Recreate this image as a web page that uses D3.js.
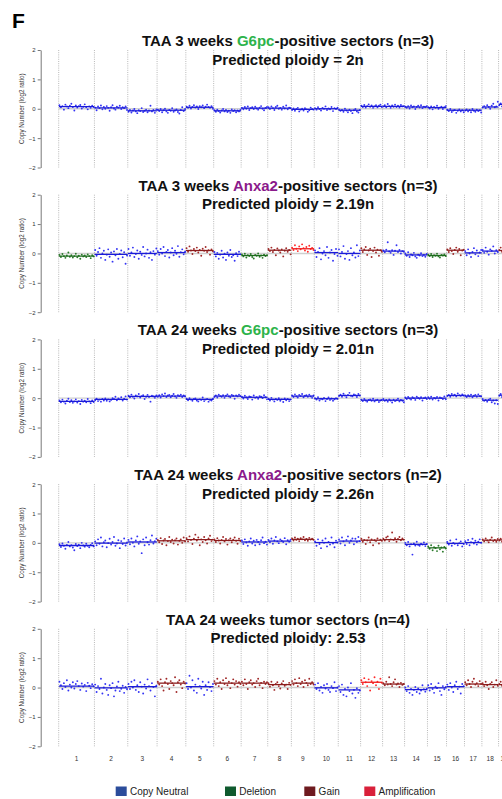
<!DOCTYPE html>
<html>
<head>
<meta charset="utf-8">
<script src="https://cdn.jsdelivr.net/npm/d3@7"></script>
<style>
    body { margin: 0; background: #fff; }
    svg { display: block; font-family: "Liberation Sans", Arial, Helvetica, sans-serif; }
    .axis path, .axis line { stroke: #555; stroke-width: 0.8; }
    .axis text { font-size: 6px; fill: #333; }
    .ylabel { font-size: 6.3px; fill: #333; }
    .title { font-size: 15px; font-weight: bold; fill: #111; }
    .chrom-label { font-size: 6.5px; fill: #333; }
    .legend text { font-size: 10px; fill: #222; }
</style>
</head>
<body>
<div id="chart"></div>
<script>
// Mouse chromosomes and their lengths (Mb)
var chromosomes = ['1', '2', '3', '4', '5', '6', '7', '8', '9', '10', '11', '12', '13', '14', '15', '16', '17', '18', '19', 'X'];
var chromLengths = [195, 182, 160, 157, 152, 150, 145, 129, 125, 131, 122, 120, 120, 125, 104, 98, 95, 91, 61, 171];

var titleLeads = ['TAA 3 weeks ', 'TAA 3 weeks ', 'TAA 24 weeks ', 'TAA 24 weeks ', 'TAA 24 weeks tumor sectors (n=4)'];
var titleGenes = ['G6pc', 'Anxa2', 'G6pc', 'Anxa2', ''];
var titleTails = ['-positive sectors (n=3)', '-positive sectors (n=3)', '-positive sectors (n=3)', '-positive sectors (n=2)', ''];
var ploidyLabels = ['Predicted ploidy = 2n', 'Predicted ploidy = 2.19n', 'Predicted ploidy = 2.01n', 'Predicted ploidy = 2.26n', 'Predicted ploidy: 2.53'];

var yTicks = [-2, -1, 0, 1, 2];
var legendLabels = ['Copy Neutral', 'Deletion', 'Gain', 'Amplification'];
var legendStates = ['N', 'D', 'G', 'A'];

// Segment call per chromosome (N neutral, D deletion, G gain, A amplification)
var segmentStates = [
    'NNNNNNNNNNNNNNNNNNN',
    'DNNNGNDGANNGNNDGNNG',
    'NNNNNNNNNNNNNNNNNNN',
    'NNNGGGNNGNNGGNDNNGG',
    'NNNGNGGGGNNAGNNNGGG'
];

// Segment mean log2 ratio per chromosome
var segmentLevels = [
    [0.07, 0.03, -0.07, -0.05, 0.05, -0.07, 0.02, 0.02, -0.02, 0.00, -0.05, 0.08, 0.08, 0.06, 0.04, -0.05, -0.05, 0.06, 0.15],
    [-0.09, -0.03, 0.00, 0.03, 0.10, -0.03, -0.07, 0.11, 0.16, 0.03, 0.00, 0.11, 0.08, -0.05, -0.07, 0.11, 0.02, 0.08, 0.10],
    [-0.11, -0.04, 0.06, 0.07, -0.04, 0.07, 0.03, -0.04, 0.07, -0.02, 0.09, -0.07, -0.07, 0.00, 0.00, 0.09, 0.07, -0.07, 0.10],
    [-0.09, -0.01, 0.03, 0.07, 0.11, 0.08, 0.03, 0.06, 0.12, 0.01, 0.06, 0.09, 0.11, -0.05, -0.17, -0.02, 0.01, 0.09, 0.10],
    [0.05, -0.01, 0.03, 0.15, 0.03, 0.15, 0.15, 0.10, 0.15, -0.01, -0.08, 0.18, 0.12, -0.07, -0.01, 0.03, 0.12, 0.10, 0.10]
];

// Bin log2 ratios (x100), one string per chromosome
var binsG6pc3w = [
    '12 5 9 -3 14 8 2 10 17 6 -6 11 4 9 13 1 7 15 5 -2 8 3 10 6',
    '4 -5 8 2 11 -2 6 0 9 3 -7 5 12 1 -3 7 4 10 -1 5 2 8 -4',
    '-10 -4 -13 -6 -1 -9 -15 -5 -8 2 -11 -7 -3 -12 -6 10 -9 -4 -14 -2',
    '-3 -8 -1 -12 -5 0 -9 -14 -4 -7 2 -10 -6 -2 -11 -16 -4 5 -8 -1',
    '7 3 10 1 6 12 4 8 -1 9 5 11 2 7 14 6 3 9 0',
    '-5 -10 -3 -8 -13 -6 -1 -9 -4 -11 -7 -14 -2 -8 -5 -12 -6 -9 -3',
    '3 -2 6 0 8 -4 2 5 -1 7 1 -3 4 9 0 -5 3 6',
    '5 -1 8 2 -4 6 10 0 3 -3 7 1 11 -2 4 2',
    '-4 1 -7 -1 3 -9 -3 0 -6 2 -2 -10 -5 4 -1 -3',
    '2 -3 5 -1 -6 3 0 8 -4 1 -2 6 -8 2 -1 4',
    '-2 -7 -4 -10 0 -6 -12 -3 -8 -15 -5 -1 -9 -13 -4',
    '10 6 13 4 9 15 7 11 3 8 12 5 10 14 6',
    '8 12 5 16 9 3 11 7 14 6 10 4 13 8 9',
    '7 3 9 1 11 5 8 -1 6 10 4 12 2 7 5 9',
    '5 1 8 -2 6 3 10 0 4 7 -1 5 9',
    '-3 -8 -1 -11 -6 -4 -14 -7 -2 -9 -5 -12',
    '-6 -2 -9 -4 -12 -1 -7 -10 -3 -8 -5 -13',
    '4 9 2 12 6 0 10 17 5 8 24',
    '12 18 8 22 15 10 19 14'
];

var binsAnxa23w = [
    '-5 -12 -2 -9 -15 -7 3 -11 -6 -14 -9 -1 -13 -8 -18 -4 -10 -7 -12 -3 -9 -16 -6 -10',
    '12 -8 5 18 -15 0 9 -22 -4 14 -11 3 -28 7 -6 15 -18 -2 10 -13 4 -35 -7',
    '15 -8 3 20 -12 -2 10 -18 6 -5 22 -10 0 13 -15 4 -22 8 -4 17',
    '8 -4 15 0 22 -9 5 12 -14 3 18 -6 9 -1 25 -11 4 14 -3 7',
    '18 6 24 10 -2 15 8 20 3 12 -8 16 9 22 5 11 -4 14 7',
    '5 -10 2 -18 -4 9 -14 -1 -22 3 -8 12 -12 -6 -25 1 -9 6 -3',
    '-3 -10 -1 -14 -6 -9 -2 -12 -17 -5 -8 0 -11 -7 -15 -4 -9 -6',
    '15 8 20 5 12 -6 17 10 3 14 -10 9 18 6 12 -3',
    '20 12 28 16 8 24 14 31 18 10 22 6 26 15 19 12',
    '10 -12 5 18 -20 0 8 -6 22 -15 3 12 -25 -2 15 -8',
    '14 -10 5 25 -18 -2 8 -22 18 -6 3 -14 28 -9 10',
    '18 5 14 22 -5 10 16 -12 8 20 3 13 -8 11 6',
    '10 4 13 38 7 2 11 -5 9 28 5 12 0 8 6',
    '0 -8 4 -12 -3 -6 2 -10 -15 -4 -7 1 -9 -5 -11 -2',
    '-4 -9 -2 -12 -6 -8 -1 -10 -14 -5 -7 -3 -9',
    '14 5 18 8 -2 12 20 6 15 -6 10 13',
    '8 -6 14 0 -12 5 18 -3 10 -9 3 12',
    '12 2 20 6 -4 14 9 24 0 11 5',
    '12 20 6 15 9 24 4 13'
];

var binsG6pc24w = [
    '-8 -14 -5 -12 -18 -9 -2 -13 -7 -16 -11 -4 -15 -10 -20 -6 -12 -9 -14 -3 -11 -17 -8 -13',
    '-7 -2 -10 -5 -12 -3 -8 -1 -9 -4 -11 -6 0 -3 5 -7 -1 -4 3 -8 -2 6 -5',
    '8 3 12 5 -1 9 6 14 2 7 10 -3 5 11 4 -12 8 6 1 9',
    '5 10 2 13 7 16 4 9 11 3 8 14 6 1 10 7 12 4 9 6',
    '-2 -7 0 -5 -9 -3 -1 -8 -11 -4 -6 2 -10 -5 -3 -12 -6 -8 -2',
    '4 9 2 12 7 5 10 1 8 13 6 3 11 8 -2 9 6 12 7',
    '5 -1 8 2 -3 6 4 -5 9 1 3 -2 7 5 0 10 3 -4',
    '-2 -8 1 -5 -11 -3 -6 0 -9 -4 -13 -1 -7 -3 -10 -5',
    '9 4 13 6 2 11 7 14 3 8 10 5 12 6 1 9',
    '0 -5 3 -8 -2 -4 1 -10 -3 2 -6 -1 -9 -4 0 -2',
    '7 12 5 15 9 3 11 18 8 6 13 10 4 14 9',
    '-5 -10 -3 -8 -12 -6 -4 -9 -2 -11 -7 -5 -13 -8 -6',
    '-3 -9 -6 -12 -4 -8 -15 -5 -10 -7 -2 -11 -6 -9 -14',
    '2 -3 4 -1 -5 3 0 -6 5 1 -2 3 -8 0 2 -3',
    '3 -2 5 -5 1 -1 4 -8 2 0 -3 6 -4',
    '7 11 5 14 9 12 6 16 10 8 13 9',
    '9 4 10 6 12 3 8 11 5 13 7 6',
    '-3 -9 -6 -12 -5 -2 -14 -8 -18 -7 -20',
    '8 14 4 12 18 6 10 15'
];

var binsAnxa224w = [
    '-5 -14 -2 -10 -20 -7 3 -12 -8 -16 -25 -4 -11 -6 -18 0 -9 -13 -3 -10 -15 -7 -1 -12',
    '5 -8 12 -3 18 -12 2 8 -15 -1 14 -6 3 20 -10 -2 9 -18 6 -4 15 -9 1',
    '10 -5 15 0 -12 8 22 -3 5 -35 12 -8 18 2 -6 9 25 -2 6 14',
    '10 2 16 -4 8 13 -8 6 20 3 11 -2 9 15 -6 7 12 0 18 5',
    '16 5 22 10 -4 14 28 8 18 -8 12 3 20 9 -2 15 24 6 11',
    '12 3 16 8 -2 10 20 5 13 -6 9 15 2 11 18 7 -3 14 6',
    '8 -4 12 1 -10 5 15 -2 7 -8 10 3 -5 9 18 -1 4 -6',
    '10 2 15 -3 8 20 5 -1 12 7 3 16 -5 9 4 11',
    '15 8 18 10 14 6 16 12 20 9 13 7 17 11 14 10',
    '5 -10 12 -4 -18 8 0 15 -12 3 -6 18 -2 -15 7 1',
    '12 -2 18 5 -8 10 22 0 8 15 -5 14 3 20 6',
    '14 4 10 -4 8 18 2 12 -8 9 6 15 -2 11 7',
    '14 8 18 22 6 12 35 10 16 4 13 20 9 15 11',
    '0 -8 3 -12 -5 -40 -2 -9 4 -7 -10 -3 -6 1 -11 -4',
    '-12 -20 -8 -25 -15 -18 -28 -10 -22 -16 -30 -14 -19',
    '3 -6 8 -10 0 -3 12 -8 -1 5 -12 -4',
    '6 -4 10 -8 2 14 -2 7 -6 4 12 0',
    '12 5 15 8 2 11 18 6 10 4 13',
    '8 14 4 12 18 6 10 15'
];

var binsTumor24w = [
    '20 8 -5 15 2 25 -10 10 0 18 -3 12 22 5 -8 14 3 9 -12 16 6 -2 11 4',
    '10 -15 5 -5 30 -20 0 12 -8 -25 8 -2 15 -30 -10 4 20 -12 -4 6 -18 2 -6',
    '12 -5 20 0 25 -8 8 -15 18 3 -20 10 -3 28 5 -10 15 2 -30 6',
    '20 10 28 5 -10 18 30 12 -5 22 15 8 35 -15 18 25 10 -2 20 14',
    '15 -5 40 0 25 -10 10 -18 30 5 -3 20 -25 8 -8 18 2 -12 12',
    '22 10 30 5 18 -5 25 12 32 8 20 -2 15 28 10 22 3 18 12',
    '20 8 28 12 -5 18 25 10 15 2 22 30 8 16 -2 20 12 18',
    '15 3 20 8 -8 12 18 5 -3 14 22 6 10 -5 16 9',
    '22 10 28 15 5 32 12 20 2 25 16 8 30 12 18 10',
    '10 -5 15 -10 2 -18 8 -3 12 -8 -15 5 -2 18 -12 0',
    '5 -15 10 -25 -5 -30 0 -12 15 -20 -8 -35 -2 -18 -10',
    '25 12 32 18 5 28 -10 22 15 35 8 20 -5 30 16',
    '15 8 20 10 35 12 5 18 28 10 14 2 16 9 12',
    '0 -12 5 -18 -5 -25 -8 2 -15 -3 -20 -10 8 -6 -14 -4',
    '8 -10 12 -5 -18 3 -2 15 -12 -25 5 -6 2',
    '10 -8 15 0 -15 8 20 -5 3 -20 12 5',
    '18 8 25 12 2 20 30 10 15 5 22 12',
    '15 5 20 8 -5 12 18 2 10 25 6',
    '12 20 6 15 9 24 4 13'
];

var panelBins = [binsG6pc3w, binsAnxa23w, binsG6pc24w, binsAnxa224w, binsTumor24w];

(function (d3) {
    'use strict';

    var width = 502;
    var height = 799;

    var dotColor = {N: '#3333f4', D: '#2a7a2a', G: '#a02828', A: '#ff2a2a'};
    var segColor = {N: '#1a1ad8', D: '#1c6a1c', G: '#8a1c1c', A: '#f01c1c'};
    var legendColor = {N: '#2b4c9b', D: '#0f5a2e', G: '#6e1a1f', A: '#d9203a'};
    var geneColor = {G6pc: '#2db34a', Anxa2: '#8b1a8b'};

    var svg = d3.select('#chart').append('svg')
        .attr('width', width)
        .attr('height', height)
    ;

    // Genome coordinates: chromosome starts
    var total = d3.sum(chromLengths);
    var starts = [0].concat(Array.from(d3.cumsum(chromLengths)));

    var x = d3.scaleLinear()
        .domain([0, total])
        .range([58.7, 58.7 + total * 0.1832])
    ;

    svg.append('text')
        .attr('x', 12)
        .attr('y', 28)
        .attr('font-size', 21)
        .attr('font-weight', 'bold')
        .text('F')
    ;

    panelBins.forEach(function (bins, p) {
        drawPanel(p, bins);
    });

    drawChromLabels(50 + 144.7 * 4);
    drawLegend();

    function drawPanel(p, bins) {
        var top = 50 + 144.7 * p;
        var y = d3.scaleLinear().domain([-2, 2]).range([top + 117.5, top]);
        var g = svg.append('g').attr('class', 'panel');

        // zero line
        g.append('line')
            .attr('x1', x(0))
            .attr('x2', width)
            .attr('y1', y(0))
            .attr('y2', y(0))
            .attr('stroke', '#cfcfcf')
            .attr('stroke-width', 1.4)
        ;

        // chromosome boundaries
        g.selectAll('.boundary')
            .data(starts)
            .enter()
            .append('line')
            .attr('class', 'boundary')
            .attr('x1', function (d) { return x(d); })
            .attr('x2', function (d) { return x(d); })
            .attr('y1', y(2))
            .attr('y2', y(-2))
            .attr('stroke', '#8a8a8a')
            .attr('stroke-width', 0.6)
            .attr('stroke-dasharray', '1,1.2')
        ;

        // y axis
        g.append('g')
            .attr('class', 'axis')
            .attr('transform', 'translate(40.7,0)')
            .call(d3.axisLeft(y).tickValues(yTicks).tickSize(3).tickSizeOuter(0).tickPadding(2).tickFormat(d3.format('d')))
        ;

        g.append('text')
            .attr('class', 'ylabel')
            .attr('transform', 'translate(23.5,' + y(0) + ') rotate(-90)')
            .attr('text-anchor', 'middle')
            .text('Copy Number (log2 ratio)')
        ;

        // bins
        bins.forEach(function (str, c) {
            var vals = str.split(' ').map(Number);
            var state = segmentStates[p][c];
            var len = chromLengths[c];
            g.append('g')
                .selectAll('circle')
                .data(vals)
                .enter()
                .append('circle')
                .attr('cx', function (v, i) { return x(starts[c] + (i + 0.5) / vals.length * len); })
                .attr('cy', function (v) { return y(v / 100); })
                .attr('r', 0.95)
                .attr('fill', dotColor[state])
            ;

            g.append('line')
                .attr('x1', x(starts[c] + 1))
                .attr('x2', x(starts[c] + len - 1))
                .attr('y1', y(segmentLevels[p][c]))
                .attr('y2', y(segmentLevels[p][c]))
                .attr('stroke', segColor[state])
                .attr('stroke-width', 1.3)
            ;
        });

        // title
        var t1 = g.append('text')
            .attr('class', 'title')
            .attr('x', 288)
            .attr('y', top - 4)
            .attr('text-anchor', 'middle')
        ;
        t1.append('tspan').text(titleLeads[p]);
        if (titleGenes[p]) {
            t1.append('tspan').attr('fill', geneColor[titleGenes[p]]).text(titleGenes[p]);
            t1.append('tspan').text(titleTails[p]);
        }

        g.append('text')
            .attr('class', 'title')
            .attr('x', 288)
            .attr('y', top + 14.5)
            .attr('text-anchor', 'middle')
            .text(ploidyLabels[p])
        ;
    }

    function drawChromLabels(top) {
        // only chromosomes that start inside the picture
        var shown = chromosomes.filter(function (d, i) { return x(starts[i]) < width; });
        svg.append('g')
            .selectAll('text')
            .data(shown)
            .enter()
            .append('text')
            .attr('class', 'chrom-label')
            .attr('x', function (d, i) { return x(starts[i] + chromLengths[i] / 2); })
            .attr('y', top + 117.5 + 14.5)
            .attr('text-anchor', 'middle')
            .text(function (d) { return d; })
        ;
    }

    function drawLegend() {
        var xs = [115.7, 225, 304.3, 364.3];
        var lg = svg.append('g').attr('class', 'legend');
        var items = lg.selectAll('g')
            .data(legendLabels)
            .enter()
            .append('g')
            .attr('transform', function (d, i) { return 'translate(' + xs[i] + ',786.5)'; })
        ;
        items.append('rect')
            .attr('width', 11)
            .attr('height', 9.5)
            .attr('fill', function (d, i) { return legendColor[legendStates[i]]; })
        ;
        items.append('text')
            .attr('x', 14.3)
            .attr('y', 8.8)
            .text(function (d) { return d; })
        ;
    }
})(d3);
</script>
</body>
</html>
